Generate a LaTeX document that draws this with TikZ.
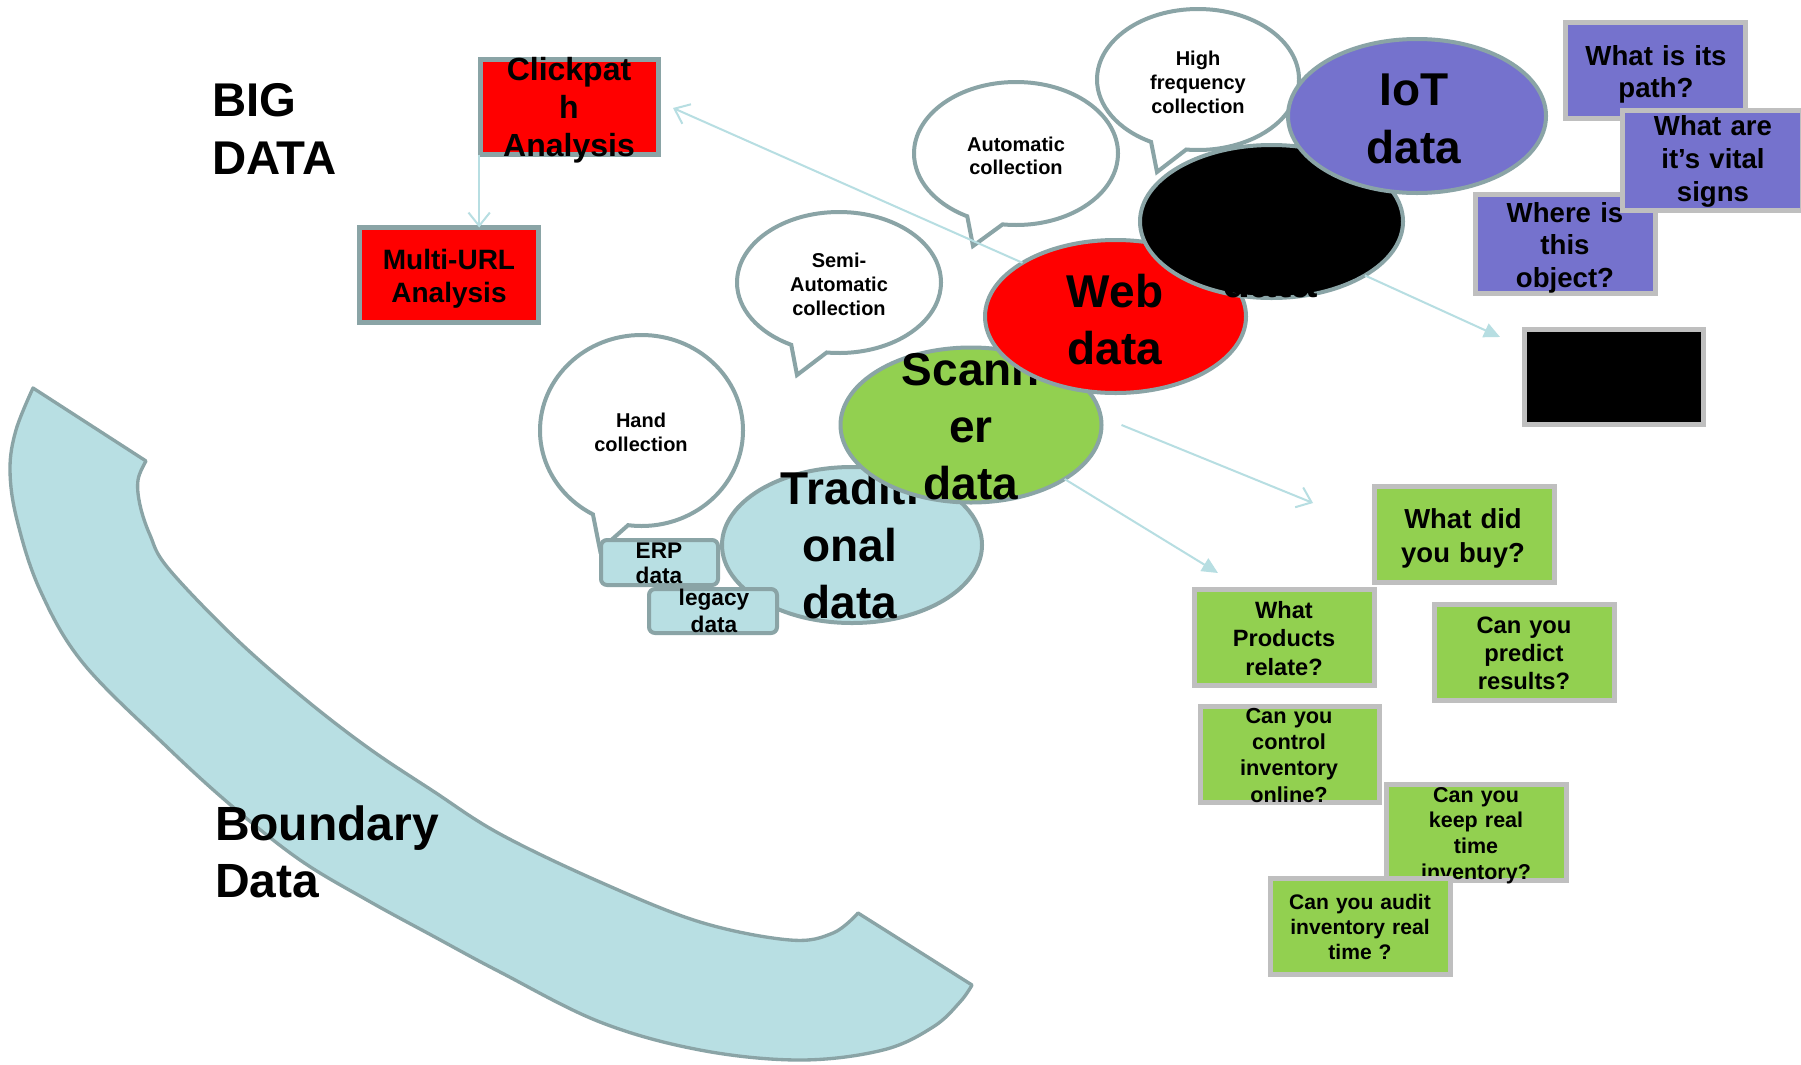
\documentclass[tikz,border=0pt]{standalone}
\usepackage{fontspec}
\setmainfont{Liberation Sans}
\usetikzlibrary{shapes.geometric,shapes.callouts,arrows.meta}
\definecolor{bgray}{RGB}{138,164,166}
\definecolor{lblue}{RGB}{184,223,227}
\definecolor{lgray}{RGB}{191,191,191}
\definecolor{pur}{RGB}{117,114,205}
\definecolor{grn}{RGB}{146,208,80}
\definecolor{conncol}{RGB}{183,222,226}
\newcommand\myfs[2]{\fontsize{#1}{#2}\selectfont\bfseries}
\tikzset{
  sz/.style 2 args={minimum width=#1*0.75pt, minimum height=#2*0.75pt},
  shp/.style={inner sep=0pt, outer sep=0pt},
  ell/.style={shp, ellipse, draw=bgray, line width=3pt},
  bub/.style={shp, ellipse callout, draw=bgray, fill=white, line width=3pt, callout pointer arc=21},
  redbox/.style={shp, rectangle, draw=bgray, fill=red, line width=3.75pt},
  pbox/.style={shp, rectangle, draw=lgray, fill=pur, line width=3.75pt},
  gbox/.style={shp, rectangle, draw=lgray, fill=grn, line width=3.75pt},
  tbox/.style={shp, rectangle, rounded corners=4.5pt, draw=bgray, fill=lblue, line width=3pt},
  txt/.style={inner sep=0pt, outer sep=0pt, anchor=base, align=center, text width=240pt},
  conn/.style={draw=conncol, line width=1.5pt},
  openhead/.style={-{Straight Barb[length=10pt,width=16pt]}},
  fillhead/.style={-{Triangle[length=12pt,width=11pt]}},
  band/.style={fill=lblue, draw=bgray, line width=2.5pt, line join=round}
}
\begin{document}
\begin{tikzpicture}[x=0.75pt,y=-0.75pt]
\useasboundingbox (0,0) rectangle (1801,1064);
\fill[white] (0,0) rectangle (1801,1064);

% Boundary band
\draw[band] (33,388) -- (146,461)
  -- plot[smooth, tension=0.6] coordinates {(146,461) (138,480) (140,505) (150,535) (168,568) (233,636) (300,695) (367,747) (433,791) (500,834) (600,882) (700,922) (790,940) (833,933) (858,913)}
  -- (972,985)
  -- plot[smooth, tension=0.6] coordinates {(972,985) (960,1002) (933,1027) (883,1050) (800,1060) (700,1050) (600,1022) (500,972) (433,936) (367,900) (300,860) (233,807) (167,747) (83,663) (40,590) (17,520) (10,470) (16,430) (33,388)}
  -- cycle;
\node[txt, anchor=base west, align=left, font=\myfs{36}{42.75}] (bnd) at (215,840) {Boundary\\Data};

% BIG DATA
\node[txt, anchor=base west, align=left, font=\myfs{35.5}{43.5}] (big) at (212,116) {BIG\\DATA};

% red boxes
\node[redbox, sz={178}{95}] (click) at (569.5,107) {};
\node[txt, font=\myfs{24}{28.5}] (clickt) at (569,80) {Clickpat\\h\\Analysis};
\node[redbox, sz={179}{95}] (multi) at (449,275) {};
\node[txt, font=\myfs{21}{24.75}] (multit) at (449,269) {Multi-URL\\Analysis};

% bubbles
\node[bub, sz={203}{191}, callout absolute pointer={(600,550)}] (hand) at (641.5,430.5) {};
\node[txt, font=\myfs{15}{18}] (handt) at (641,427) {Hand\\collection};
\node[bub, sz={204}{141}, callout absolute pointer={(797,375)}] (semi) at (839,282.5) {};
\node[txt, font=\myfs{15}{18}] (semit) at (839,267) {Semi-\\Automatic\\collection};
\node[bub, sz={204}{143}, callout absolute pointer={(973,246)}] (auto) at (1016,153.5) {};
\node[txt, font=\myfs{15}{17.5}] (autot) at (1016,151) {Automatic\\collection};
\node[bub, sz={202}{141}, callout absolute pointer={(1157,172)}] (high) at (1198,79.5) {};
\node[txt, font=\myfs{15}{18}] (hight) at (1198,65) {High\\frequency\\collection};

% traditional + small boxes
\node[ell, fill=lblue, sz={260}{156}] (trad) at (852,545) {};
\node[txt, font=\myfs{34.5}{42.75}] (tradt) at (850,504) {Traditi\\onal\\data};
\node[tbox, sz={117}{45}] (erp) at (659.5,562.5) {};
\node[txt, font=\myfs{17}{18.75}] (erpt) at (659,558) {ERP\\data};
\node[tbox, sz={128}{44}] (legacy) at (713,611) {};
\node[txt, font=\myfs{17}{20.25}] (legacyt) at (714,605) {legacy\\data};

% data ellipses
\node[ell, fill=grn, sz={261}{155}] (scan) at (971,425) {};
\node[txt, font=\myfs{34.5}{42.75}] (scant) at (971,385) {Scann\\er\\data};
\node[ell, fill=red, sz={261}{153}] (web) at (1115.5,316.5) {};
\node[txt, font=\myfs{34.5}{42.75}] (webt) at (1115,307) {Web\\data};
\node[ell, fill=black, sz={263}{153}] (black) at (1271.5,221.5) {};
\node[txt, font=\myfs{34.5}{42.75}] (blackt) at (1270,297) {data};
\node[ell, fill=pur, sz={258}{154}] (iot) at (1417,116) {};
\node[txt, font=\myfs{34.5}{43.5}] (iott) at (1414,105) {IoT\\data};

% purple boxes
\node[pbox, sz={180}{96}] (path) at (1655.5,70.5) {};
\node[txt, font=\myfs{20.7}{24.4}] (patht) at (1656,65) {What is its\\path?};
\node[pbox, sz={180}{99}] (where) at (1565.5,244) {};
\node[txt, font=\myfs{20.7}{24.4}] (wheret) at (1565,222) {Where is\\this\\object?};
\node[pbox, sz={180}{100}] (vital) at (1712.5,160.5) {};
\node[txt, font=\myfs{20.7}{25.1}] (vitalt) at (1713,135) {What are\\it’s vital\\signs};
\node[shp, rectangle, draw=lgray, fill=black, line width=3.75pt, sz={179}{95}] (bbox) at (1614,377) {};

% green boxes
\node[gbox, sz={180}{96}] (buy) at (1464.5,534.5) {};
\node[txt, font=\myfs{20.6}{25.5}] (buyt) at (1463,528) {What did\\you buy?};
\node[gbox, sz={180}{96}] (prod) at (1284.5,637.5) {};
\node[txt, font=\myfs{17.7}{21.4}] (prodt) at (1284,618) {What\\Products\\relate?};
\node[gbox, sz={180}{96}] (pred) at (1524.5,652.5) {};
\node[txt, font=\myfs{17.8}{21}] (predt) at (1524,633) {Can you\\predict\\results?};
\node[gbox, sz={179}{96}] (ctrl) at (1290,754.5) {};
\node[txt, font=\myfs{16.3}{19.75}] (ctrlt) at (1289,723) {Can you\\control\\inventory\\online?};
\node[gbox, sz={180}{96}] (keep) at (1476.5,832.5) {};
\node[txt, font=\myfs{16.1}{19.25}] (keept) at (1476,802) {Can you\\keep real\\time\\inventory?};
\node[gbox, sz={180}{96}] (audit) at (1360.5,926.5) {};
\node[txt, font=\myfs{15.8}{18.75}] (auditt) at (1360,909) {Can you audit\\inventory real\\time ?};

% connectors
\coordinate (clicktip) at (673,108);
\coordinate (bbtip) at (1500,337);
\coordinate (buytip) at (1313,503);
\coordinate (prodtip) at (1218,573);
\draw[conn, openhead] ([xshift=-1pt]click.south west) -- ([xshift=-1pt]click.south west |- multi.north);
\draw[conn, openhead] (web.150) -- (clicktip);
\draw[conn, fillhead] (black.-30) -- (bbtip);
\draw[conn, openhead] ([xshift=15pt]scan.east) -- (buytip);
\draw[conn, fillhead] (scan.-30) -- (prodtip);
\end{tikzpicture}
\end{document}
